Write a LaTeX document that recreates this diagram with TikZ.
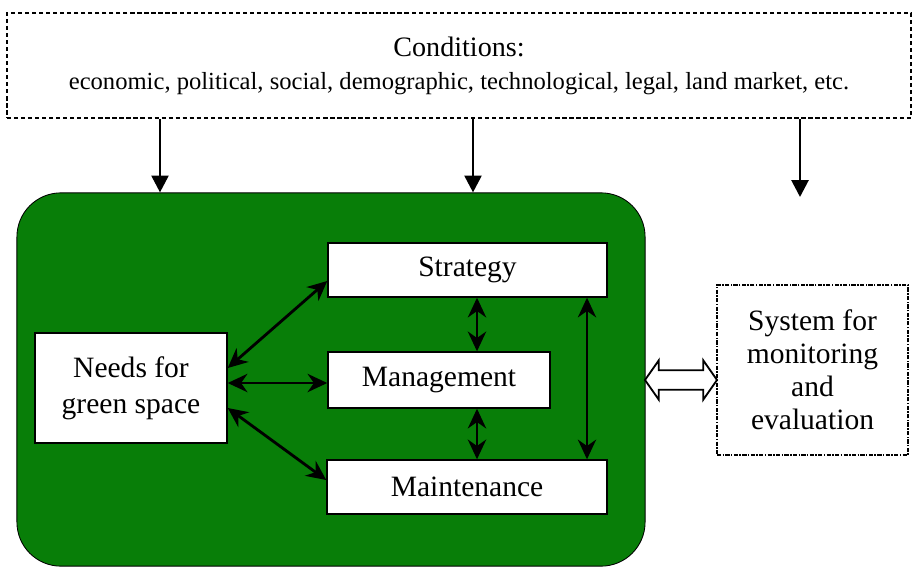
\documentclass[tikz,border=0pt]{standalone}
\usepackage{fontspec}
\setmainfont{Liberation Serif}
\usetikzlibrary{arrows.meta,shapes.arrows}

\definecolor{parkgreen}{RGB}{8,126,8}

\begin{document}
\begin{tikzpicture}[x=0.025cm, y=-0.025cm,
    box/.style = {draw, fill=white, line width=1pt, inner sep=0pt, align=center,
                  font=\fontsize{21}{25.5}\selectfont},
    link/.style = {{Stealth[length=14pt,width=13pt]}-{Stealth[length=14pt,width=13pt]}, line width=2pt},
    down/.style = {-{Triangle[length=12pt,width=12pt]}, line width=2pt}]
    \useasboundingbox (0,0) rectangle (912,567);

    \node[draw, densely dashed, line width=1.2pt, minimum width=22.6cm, minimum height=2.625cm,
          align=center] (cond) at (459,65.5)
          {{\fontsize{20}{24}\selectfont Conditions:}\\[10pt]
           {\fontsize{17.5}{20}\selectfont economic, political, social, demographic, technological, legal, land market, etc.}};

    \node[draw, fill=parkgreen, rounded corners=1.1cm, line width=0.6pt,
          minimum width=15.7cm, minimum height=9.33cm] (park) at (331,379.5) {};

    \node[box, minimum width=4.8cm, minimum height=2.75cm] (needs) at (131,388) {Needs for\\green space};
    \node[box, minimum width=6.975cm, minimum height=1.35cm] (strategy) at (467.5,270) {Strategy};
    \node[box, minimum width=5.55cm, minimum height=1.4cm] (manage) at (439,380) {Management};
    \node[box, minimum width=7cm, minimum height=1.35cm] (maint) at (467,487) {Maintenance};
    \node[box, densely dash dot, line width=1.4pt, minimum width=4.775cm, minimum height=4.25cm,
          font=\fontsize{21}{23.5}\selectfont] (monitor) at (812.5,370) {System for\\monitoring\\and\\evaluation};

    \coordinate (sink) at (800,197);

    \draw[down] (cond.south -| 160,0) -- (park.north -| 160,0);
    \draw[down] (cond.south -| 473,0) -- (park.north -| 473,0);
    \draw[down] (cond.south -| sink) -- (sink);

    \draw[link] (needs.east |- 0,368) -- (strategy.west |- 0,281);
    \draw[link] (needs.east |- 0,383) -- (manage.west |- 0,383);
    \draw[link] (needs.east |- 0,408) -- (maint.west |- 0,480);
    \draw[link] (strategy.south -| 477,0) -- (manage.north -| 477,0);
    \draw[link] (manage.south -| 477,0) -- (maint.north -| 477,0);
    \draw[link, line width=1.4pt] (strategy.south -| 587,0) -- (maint.north -| 587,0);

    \node[double arrow, draw, fill=white, line width=1.3pt, inner xsep=0pt, inner ysep=0.22cm,
          minimum height=1.8cm, double arrow head extend=0.25cm, double arrow tip angle=110]
          (exchange) at (681,380) {};
\end{tikzpicture}
\end{document}
